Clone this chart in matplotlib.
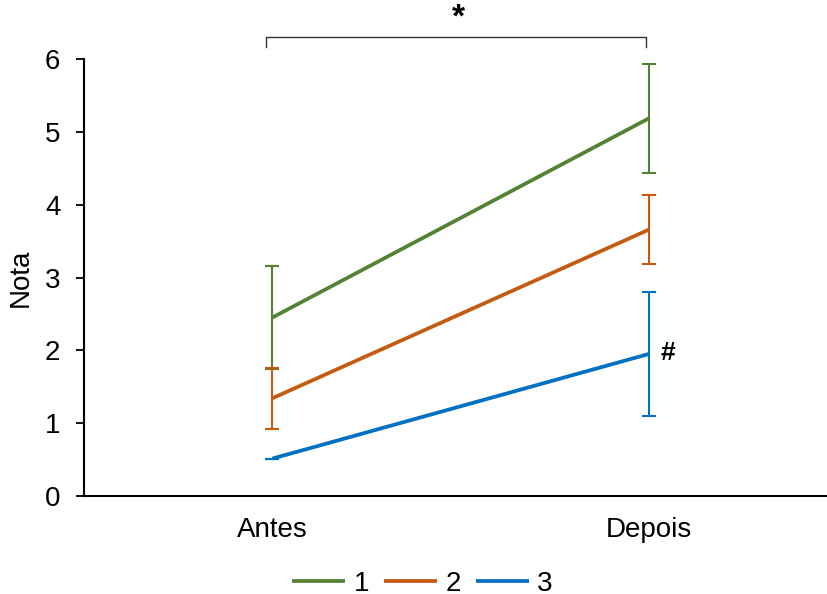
import matplotlib
matplotlib.use("Agg")
import matplotlib.pyplot as plt

plt.rcParams['font.family'] = ['Liberation Sans', 'DejaVu Sans']

categories = ['Antes', 'Depois']
series_names = ['1', '2', '3']
means = [[2.45, 5.19], [1.34, 3.66], [0.51, 1.95]]
errors = [[0.71, 0.75], [0.42, 0.47], [0.0, 0.855]]
colors = ['#548235', '#C55A11', '#0070C0']

W, H = 827, 594
fig = plt.figure(figsize=(W / 100, H / 100), dpi=100)
ax = fig.add_axes([84 / W, 1 - 495.7 / H, (W - 84) / W, (495.7 - 59.3) / H])

x = list(range(len(categories)))
handles = []
for name, m, e, c in zip(series_names, means, errors, colors):
    ax.errorbar(x, m, yerr=e, fmt='none', ecolor=c, elinewidth=1.5,
                capsize=4.7, capthick=1.5, zorder=2)
    h, = ax.plot(x, m, color=c, lw=2.7, label=name, zorder=3,
                 solid_capstyle='butt')
    handles.append(h)

fs = 20
ax.set_xlim(-0.5, 1.472)
ax.set_ylim(0, 6)
ax.set_yticks(range(0, 7))
ax.set_xticks(x)
ax.set_xticklabels(categories)
ax.tick_params(axis='x', length=0, pad=15, labelsize=fs)
ax.tick_params(axis='y', length=6, width=1.3, pad=11, labelsize=fs)
for s in ['top', 'right']:
    ax.spines[s].set_visible(False)
for s in ['left', 'bottom']:
    ax.spines[s].set_linewidth(1.5)
ax.set_ylabel('Nota', fontsize=fs, labelpad=8)

# significance bracket
ax.plot([-0.017, -0.017, 0.992, 0.992], [6.17, 6.31, 6.31, 6.17],
        color='#333333', lw=1.0, clip_on=False)
ax.text(0.493, 6.36, '*', ha='center', va='bottom', fontsize=24,
        fontweight='bold')
ax.text(1.03, 1.96, '#', ha='left', va='center', fontsize=19,
        fontweight='bold')

fig.legend(handles=handles, labels=series_names, loc='center',
           bbox_to_anchor=(0.511, 1 - 584 / H), ncol=3, frameon=False,
           fontsize=fs, handlelength=1.9, handletextpad=0.3,
           columnspacing=0.55)

fig.savefig('out.png', dpi=100)
